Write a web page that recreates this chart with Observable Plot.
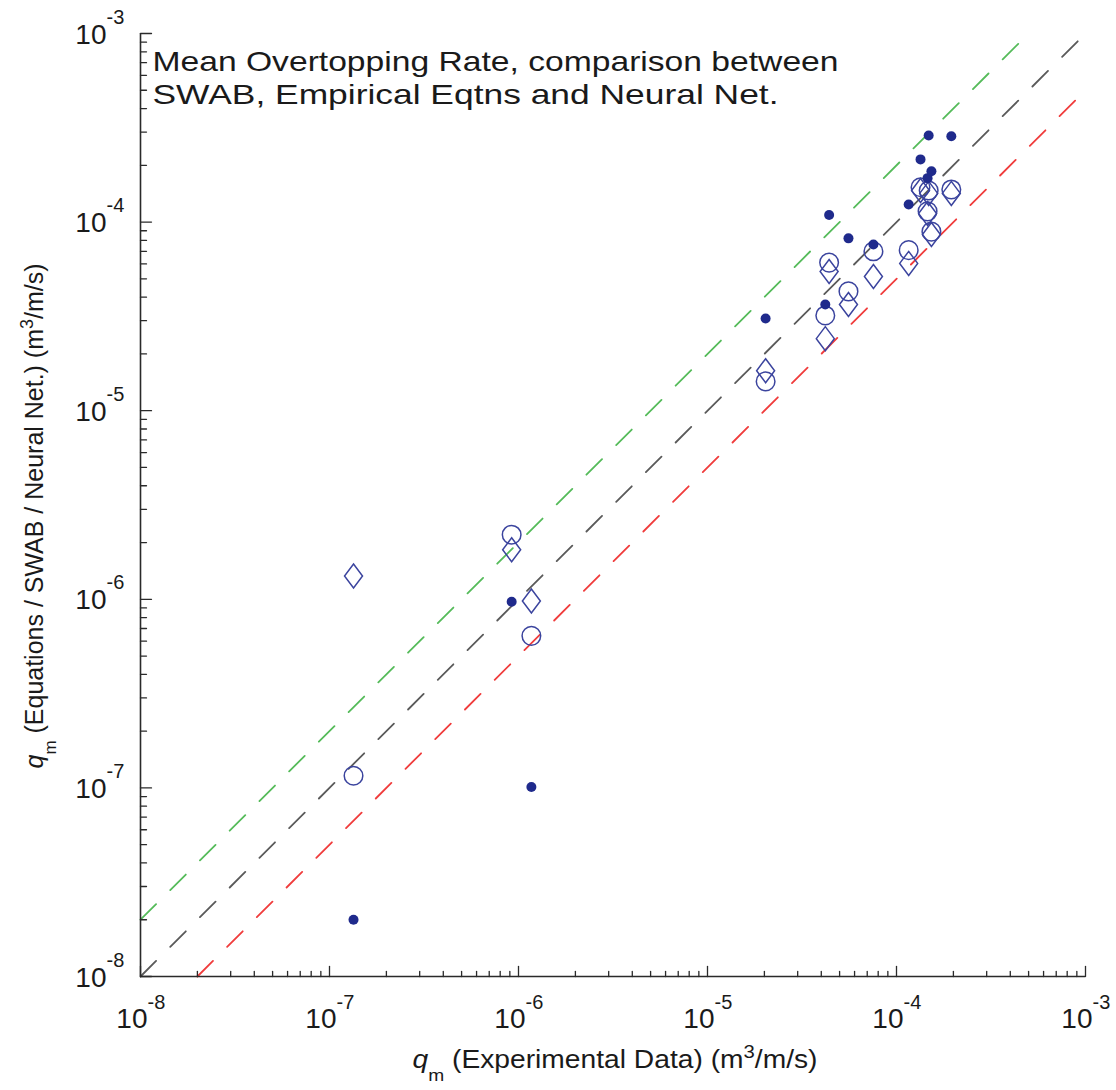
<!DOCTYPE html>
<html><head><meta charset="utf-8">
<script src="https://cdn.jsdelivr.net/npm/d3@7"></script>
<script src="https://cdn.jsdelivr.net/npm/@observablehq/plot@0.6"></script>
<style>
body{margin:0;background:#fff;}
svg{font-family:"Liberation Sans", Arial, Helvetica, sans-serif; overflow:visible;}
</style>
</head><body><div id="chart"></div>
<script>
// ---- data ----
const xExp      = [1.34e-7, 9.2e-7, 1.17e-6, 2.03e-5, 4.2e-5, 4.4e-5, 5.57e-5, 7.55e-5, 1.16e-4, 1.34e-4, 1.48e-4, 1.46e-4, 1.53e-4, 1.95e-4];
const ySwab     = [2.0e-8, 9.7e-7, 1.01e-7, 3.08e-5, 3.66e-5, 1.09e-4, 8.2e-5, 7.6e-5, 1.24e-4, 2.15e-4, 2.88e-4, 1.71e-4, 1.86e-4, 2.85e-4];
const yEmpirical= [1.16e-7, 2.2e-6, 6.4e-7, 1.43e-5, 3.2e-5, 6.1e-5, 4.29e-5, 7.0e-5, 7.1e-5, 1.53e-4, 1.47e-4, 1.14e-4, 8.9e-5, 1.49e-4];
const yNeural   = [1.33e-6, 1.83e-6, 9.8e-7, 1.63e-5, 2.41e-5, 5.47e-5, 3.66e-5, 5.15e-5, 6.04e-5, 1.47e-4, 1.42e-4, 1.11e-4, 8.6e-5, 1.42e-4];

// reference lines (endpoints)
const lineEqualX = [1e-8, 1e-3], lineEqualY = [1e-8, 1e-3];
const lineUpperX = [1e-8, 5e-4], lineUpperY = [2e-8, 1e-3];
const lineLowerX = [2e-8, 1e-3], lineLowerY = [1e-8, 5e-4];

// ticks
const decades = [-8, -7, -6, -5, -4, -3];
const tickBase = "10";
const tickExponents = ["-8", "-7", "-6", "-5", "-4", "-3"];
const majorTicks = decades.map(d => Math.pow(10, d));
const minorMultipliers = [2, 3, 4, 5, 6, 7, 8, 9];
const minorTicks = decades.slice(0, -1).flatMap(d => minorMultipliers.map(m => m * Math.pow(10, d)));

const titleLines = ["Mean Overtopping Rate, comparison between", "SWAB, Empirical Eqtns and Neural Net."];
const xTitle = "qm (Experimental Data) (m3/m/s)";
const yTitle = "qm (Equations / SWAB / Neural Net.) (m3/m/s)";

// ---- build ----
const pts = (xs, ys) => xs.map((x, i) => ({x, y: ys[i]}));
const tickShape = {draw(context, l) { context.moveTo(0, 0); context.lineTo(0, -l); }};
const diamondSymbol = {draw(context, size) {
  const r = Math.sqrt(size / Math.PI), hw = 0.9 * r, hh = 1.2 * r;
  context.moveTo(0, -hh); context.lineTo(hw, 0); context.lineTo(0, hh); context.lineTo(-hw, 0); context.closePath();
}};
const axisColor = "#2a2a2a";
const markerStroke = "#3b449e";
const textColor = "#1a1a1a";

const plot = Plot.plot({
  width: 1116, height: 1090,
  marginLeft: 140, marginRight: 31, marginTop: 33, marginBottom: 114,
  x: {type: "log", domain: [1e-8, 1e-3], axis: null},
  y: {type: "log", domain: [1e-8, 1e-3], axis: null},
  marks: [
    Plot.line(pts(lineUpperX, lineUpperY), {x: "x", y: "y", stroke: "#55bb5a", strokeWidth: 1.8, strokeDasharray: "22,20"}),
    Plot.line(pts(lineEqualX, lineEqualY), {x: "x", y: "y", stroke: "#5a5a5a", strokeWidth: 1.8, strokeDasharray: "22,20"}),
    Plot.line(pts(lineLowerX, lineLowerY), {x: "x", y: "y", stroke: "#f03c3c", strokeWidth: 1.8, strokeDasharray: "22,20"}),
    Plot.ruleX([1e-8], {stroke: axisColor, strokeWidth: 1.6}),
    Plot.ruleY([1e-8], {stroke: axisColor, strokeWidth: 1.6}),
    Plot.vector(majorTicks, {x: d => d, frameAnchor: "bottom", length: 10, rotate: 0, anchor: "start", shape: tickShape, stroke: axisColor, strokeWidth: 1.3}),
    Plot.vector(minorTicks, {x: d => d, frameAnchor: "bottom", length: 5, rotate: 0, anchor: "start", shape: tickShape, stroke: axisColor, strokeWidth: 1.3}),
    Plot.vector(majorTicks, {y: d => d, frameAnchor: "left", length: 11, rotate: 90, anchor: "start", shape: tickShape, stroke: axisColor, strokeWidth: 1.3}),
    Plot.vector(minorTicks, {y: d => d, frameAnchor: "left", length: 6, rotate: 90, anchor: "start", shape: tickShape, stroke: axisColor, strokeWidth: 1.3}),
    // x tick labels
    Plot.text(majorTicks, {x: d => d, frameAnchor: "bottom", text: () => tickBase, textAnchor: "end", lineAnchor: "bottom", dx: 7, dy: 51, fontSize: 28, fill: textColor}),
    Plot.text(majorTicks, {x: d => d, frameAnchor: "bottom", text: (d, i) => tickExponents[i], textAnchor: "start", lineAnchor: "bottom", dx: 7, dy: 32, fontSize: 20, fill: textColor}),
    // y tick labels
    Plot.text(majorTicks, {y: d => d, frameAnchor: "left", text: () => tickBase, textAnchor: "end", lineAnchor: "bottom", dx: -34, dy: 10, fontSize: 28, fill: textColor}),
    Plot.text(majorTicks, {y: d => d, frameAnchor: "left", text: (d, i) => tickExponents[i], textAnchor: "start", lineAnchor: "bottom", dx: -34, dy: -10, fontSize: 20, fill: textColor}),
    // in-plot title
    Plot.text([titleLines[0]], {frameAnchor: "top-left", text: d => d, textAnchor: "start", lineAnchor: "bottom", dx: 12, dy: 37, fontSize: 28, fill: textColor}),
    Plot.text([titleLines[1]], {frameAnchor: "top-left", text: d => d, textAnchor: "start", lineAnchor: "bottom", dx: 12, dy: 70, fontSize: 28, fill: textColor}),
    // axis titles
    Plot.text([xTitle], {frameAnchor: "bottom", text: d => d, textAnchor: "middle", lineAnchor: "bottom", dx: 2, dy: 91, fontSize: 25, fill: textColor}),
    Plot.text([yTitle], {frameAnchor: "left", text: d => d, textAnchor: "middle", lineAnchor: "bottom", rotate: -90, dx: -98, dy: 11, fontSize: 25, fill: textColor}),
    // data
    Plot.dot(pts(xExp, yNeural), {x: "x", y: "y", symbol: diamondSymbol, r: 10, stroke: markerStroke, strokeWidth: 1.5, fill: "none"}),
    Plot.dot(pts(xExp, yEmpirical), {x: "x", y: "y", symbol: "circle", r: 9.3, stroke: markerStroke, strokeWidth: 1.5, fill: "none"}),
    Plot.dot(pts(xExp, ySwab), {x: "x", y: "y", r: 5, fill: "#1f2a8c", stroke: "none"})
  ]
});

// ---- typographic post-processing (super/subscripts, stretched title text) ----
const SVGNS = "http://www.w3.org/2000/svg";
function rich(t, parts) {
  t.textContent = "";
  for (const p of parts) {
    const ts = document.createElementNS(SVGNS, "tspan");
    ts.textContent = p.t;
    if (p.size) ts.setAttribute("font-size", p.size);
    if (p.italic) ts.setAttribute("font-style", "italic");
    if (p.dy) ts.setAttribute("dy", p.dy);
    t.appendChild(ts);
  }
}
function stretch(t, len) {
  t.setAttribute("textLength", len);
  t.setAttribute("lengthAdjust", "spacingAndGlyphs");
}
plot.querySelectorAll("text").forEach(t => {
  const s = t.textContent;
  if (s === titleLines[0]) stretch(t, 686);
  else if (s === titleLines[1]) stretch(t, 626);
  else if (s === xTitle) {
    rich(t, [{t: "q", italic: true}, {t: "m", size: 17, dy: 13}, {t: " (Experimental Data) (m", dy: -13}, {t: "3", size: 18, dy: -10}, {t: "/m/s)", dy: 10}]);
    stretch(t, 405);
  } else if (s === yTitle) {
    rich(t, [{t: "q", italic: true}, {t: "m", size: 17, dy: 13}, {t: " (Equations / SWAB / Neural Net.) (m", dy: -13}, {t: "3", size: 18, dy: -10}, {t: "/m/s)", dy: 10}]);
    stretch(t, 505);
  }
});
document.getElementById("chart").appendChild(plot);
</script>
</body></html>
